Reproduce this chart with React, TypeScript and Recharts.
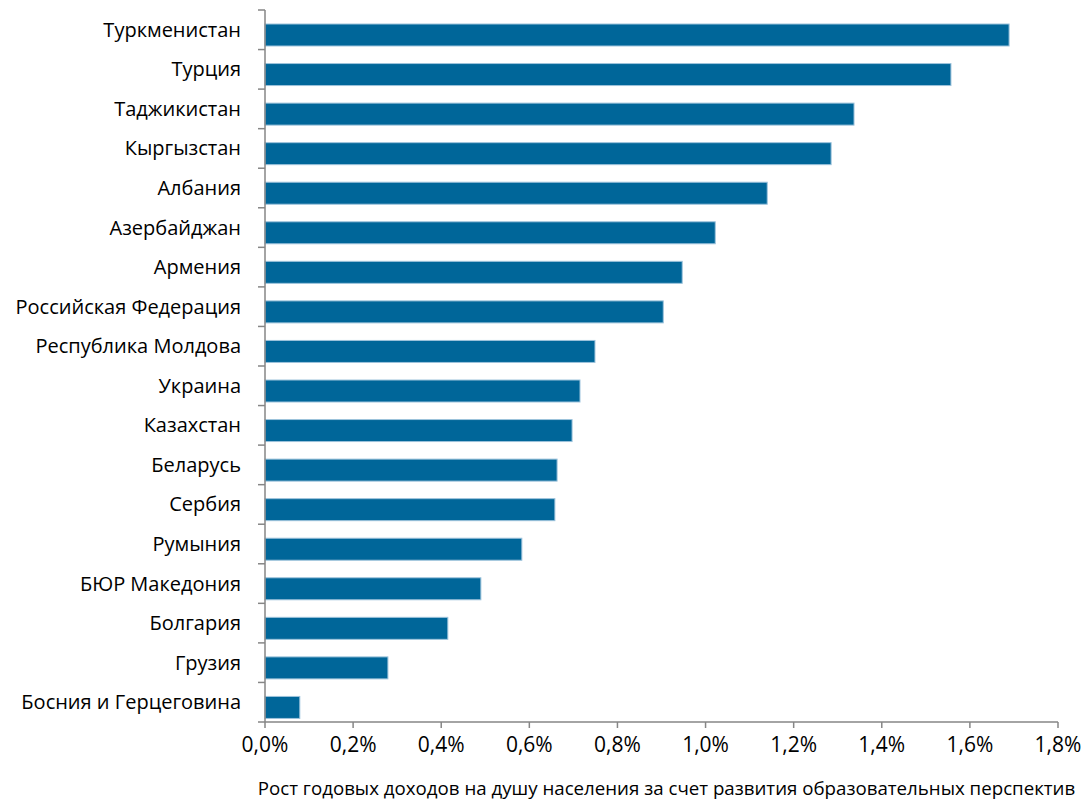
import React from 'react';
import { BarChart, Bar, XAxis, YAxis, Label } from 'recharts';

const countries = [
  'Туркменистан', 'Турция', 'Таджикистан', 'Кыргызстан', 'Албания', 'Азербайджан',
  'Армения', 'Российская Федерация', 'Республика Молдова', 'Украина', 'Казахстан',
  'Беларусь', 'Сербия', 'Румыния', 'БЮР Македония', 'Болгария', 'Грузия', 'Босния и Герцеговина',
];
const growth = [
  1.689, 1.557, 1.337, 1.285, 1.140, 1.022, 0.947, 0.904, 0.749, 0.715, 0.697,
  0.663, 0.658, 0.583, 0.490, 0.415, 0.279, 0.079,
];
const xTicks = [0, 0.2, 0.4, 0.6, 0.8, 1.0, 1.2, 1.4, 1.6, 1.8];
const xTitle = 'Рост годовых доходов на душу населения за счет развития образовательных перспектив';

const data = countries.map((name, i) => ({ name, value: growth[i] }));

const FONT = '"Open Sans", sans-serif';
const AXIS = '#868686';
const BAND = 712 / countries.length;
// Excel draws the bars a little below the centre of each category band
const BAR_SHIFT = 5;

const fmt = (v: number) => v.toFixed(1).replace('.', ',') + '%';

const CountryTick = (props: any) => {
  const { x, y, payload, index } = props;
  const last = index === countries.length - 1;
  return (
    <g>
      <line x1={x + 1} x2={x + 8} y1={y - BAND / 2} y2={y - BAND / 2} stroke={AXIS} strokeWidth={1.5} />
      {last && <line x1={x + 1} x2={x + 8} y1={y + BAND / 2} y2={y + BAND / 2} stroke={AXIS} strokeWidth={1.5} />}
      <text x={x - 16} y={y} dy={7} textAnchor="end" fontSize={20} fontFamily={FONT} fill="#000">
        {payload.value}
      </text>
    </g>
  );
};

const ShiftedBar = (props: any) => {
  const { x, y, width, height } = props;
  return (
    <rect
      x={x}
      y={y + BAR_SHIFT}
      width={Math.max(width, 0)}
      height={height}
      fill="#006699"
      stroke="#9dc3dc"
      strokeWidth={1}
    />
  );
};

export default function App() {
  return (
    <div style={{ position: 'absolute', left: 0, top: 0, background: '#fff' }}>
      <BarChart
        width={1085}
        height={805}
        data={data}
        layout="vertical"
        margin={{ top: 10, right: 27, bottom: 0, left: 0 }}
      >
        <XAxis
          type="number"
          domain={[0, 1.8]}
          ticks={xTicks}
          tickFormatter={fmt}
          height={83}
          stroke={AXIS}
          strokeWidth={1.5}
          tickSize={6}
          tick={{ fill: '#000', fontSize: 21, fontFamily: FONT }}
          tickMargin={9}
          interval={0}
        >
          <Label value={xTitle} position="insideBottom" offset={10} dx={5} fill="#000" fontSize={18.7} fontFamily={FONT} />
        </XAxis>
        <YAxis
          type="category"
          dataKey="name"
          width={265}
          stroke={AXIS}
          strokeWidth={1.5}
          tickLine={false}
          tick={<CountryTick />}
          interval={0}
        />
        <Bar dataKey="value" barSize={22} shape={<ShiftedBar />} isAnimationActive={false} />
      </BarChart>
    </div>
  );
}
